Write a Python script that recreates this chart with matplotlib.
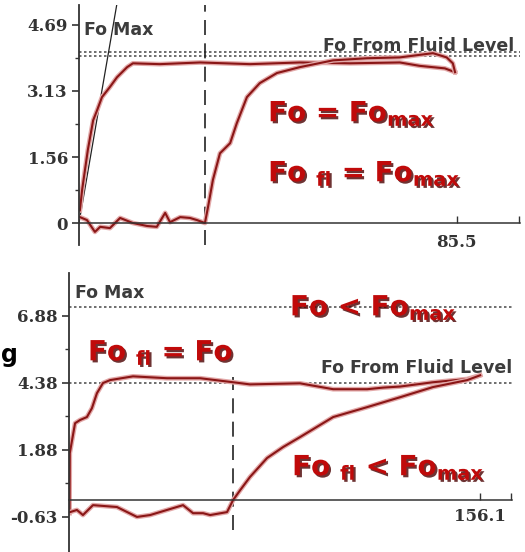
import matplotlib
matplotlib.use("Agg")
import matplotlib.pyplot as plt
import matplotlib.patheffects as pe

# ---- top panel data (Fo = Fo max) ----
top_a_x = [0.2, 0.7, 2.0, 3.2, 4.1, 5.2, 7.0, 8.6, 10.9, 12.2, 18.3, 27.4, 38.7, 50.0, 61.3, 72.6, 77.1, 82.8, 85.1]
top_a_y = [0.30, 0.78, 1.73, 2.43, 2.67, 2.98, 3.22, 3.45, 3.69, 3.78, 3.76, 3.80, 3.76, 3.80, 3.78, 3.80, 3.72, 3.66, 3.57]
top_b_x = [0.2, 1.8, 3.6, 4.8, 7.0, 9.3, 12.2, 15.4, 17.6, 19.5, 20.6, 22.9, 25.1, 26.7, 28.5, 29.2, 30.3,
           31.9, 34.2, 35.7, 38.0, 40.9, 44.8, 50.0, 57.5, 65.2, 72.6, 80.1, 83.2, 84.6, 85.1]
top_b_y = [0.14, 0.07, -0.21, -0.09, -0.12, 0.12, 0.0, -0.07, -0.09, 0.24, 0.02, 0.14, 0.12, 0.07, 0.0, 0.38, 1.02,
           1.65, 1.89, 2.36, 2.98, 3.31, 3.55, 3.69, 3.85, 3.90, 3.92, 4.02, 3.92, 3.78, 3.57]
top_slope_x = [0.0, 8.6]
top_slope_y = [0.0, 5.2]
top_fomax = 4.04
top_fluid = 3.95
top_split = 28.6
top_yticks = [0, 1.56, 3.13, 4.69]
top_xtick = 85.5

# ---- bottom panel data (Fo < Fo max) ----
bot_a_x = [0.2, 0.3, 2.3, 4.2, 6.8, 8.7, 10.6, 12.9, 15.6, 24.3, 37.2, 49.8, 62.3, 68.7, 87.7, 100.3, 113.2, 119.3, 125.8, 138.2, 151.2, 156.1]
bot_a_y = [-0.49, 1.75, 2.87, 2.99, 3.10, 3.43, 3.99, 4.37, 4.48, 4.62, 4.55, 4.55, 4.40, 4.32, 4.36, 4.14, 4.14, 4.20, 4.24, 4.40, 4.52, 4.66]
bot_b_x = [0.4, 3.0, 5.3, 9.1, 18.2, 25.8, 30.8, 37.2, 43.3, 47.1, 50.9, 53.6, 60.0, 62.3, 65.0, 68.7, 75.2,
           81.3, 87.7, 100.3, 113.2, 125.7, 138.2, 151.2, 156.1]
bot_b_y = [-0.45, -0.37, -0.56, -0.19, -0.26, -0.63, -0.56, -0.37, -0.19, -0.49, -0.49, -0.56, -0.45, 0.0, 0.37, 0.86, 1.57,
           1.98, 2.35, 3.10, 3.47, 3.84, 4.22, 4.48, 4.66]
bot_fomax = 7.2
bot_fluid = 4.38
bot_split = 62.3
bot_yticks = [-0.63, 1.88, 4.38, 6.88]
bot_xtick = 156.1

line_col = "#8a1616"
red_txt = "#c00a0a"
gray_txt = "#3c3c3c"
plt.rcParams["mathtext.fontset"] = "dejavusans"

fig = plt.figure(figsize=(5.25, 5.52), dpi=100)
fig.patch.set_facecolor("white")

ax1 = fig.add_axes([79 / 525, 307 / 552, 441 / 525, 240 / 552])
ax2 = fig.add_axes([69 / 525, 0.0, 443 / 525, 279 / 552])

line_fx = [pe.Stroke(linewidth=3.4, foreground="#e3a9a9"), pe.Normal()]
shadow = [pe.withSimplePatchShadow(offset=(1.5, -1.5), shadow_rgbFace="#4a0000", alpha=0.8)]


def style_axis(ax, yticks, xtick, xmax, ymin, ymax, xpad):
    ax.set_xlim(0, xmax)
    ax.set_ylim(ymin, ymax)
    for s in ["top", "right"]:
        ax.spines[s].set_visible(False)
    ax.spines["bottom"].set_position(("data", 0))
    ax.spines["left"].set_color("#333333")
    ax.spines["bottom"].set_color("#333333")
    ax.spines["left"].set_linewidth(1.3)
    ax.spines["bottom"].set_linewidth(1.1)
    ax.set_yticks(yticks)
    ax.set_yticklabels([f"{v:g}" for v in yticks])
    mids = [(yticks[i] + yticks[i + 1]) / 2 for i in range(len(yticks) - 1)]
    ax.set_yticks(mids, minor=True)
    ax.set_xticks([xtick, xmax * 0.998])
    ax.set_xticklabels([f"{xtick:g}", ""])
    ax.tick_params(axis="y", which="major", direction="out", length=5, width=1.2, pad=3, colors="#333333")
    ax.tick_params(axis="y", which="minor", direction="out", length=3, width=1.0, colors="#333333")
    ax.tick_params(axis="x", direction="in", length=5, width=1.0, pad=xpad, colors="#333333")
    for lab in ax.get_yticklabels() + ax.get_xticklabels():
        lab.set_fontfamily("DejaVu Serif")
        lab.set_fontweight("bold")
        lab.set_fontsize(12)
    ax.patch.set_alpha(0)


# top panel
style_axis(ax1, top_yticks, top_xtick, 99.8, -0.52, 5.16, 8)
ax1.axhline(top_fomax, color="#555555", lw=1.2, ls=(0, (1.5, 1.5)))
ax1.axhline(top_fluid, color="#555555", lw=1.2, ls=(0, (1.5, 1.5)))
ax1.axvline(top_split, color="#222222", lw=1.2, ls=(0, (9, 5)))
ax1.plot(top_slope_x, top_slope_y, color="#222222", lw=0.9, clip_on=True)
ax1.plot(top_a_x, top_a_y, color=line_col, lw=1.5, path_effects=line_fx)
ax1.plot(top_b_x, top_b_y, color=line_col, lw=1.5, path_effects=line_fx)
ax1.text(1.1, 4.56, "Fo Max", color=gray_txt, fontsize=12.5, fontweight="bold", va="center")
ax1.text(98.6, 4.18, "Fo From Fluid Level", color=gray_txt, fontsize=12.5, fontweight="bold",
         va="center", ha="right")
ax1.text(42.8, 2.6, r"Fo = Fo$_{\mathbf{max}}$", color=red_txt, fontsize=20, fontweight="bold",
         va="center", path_effects=shadow)
ax1.text(42.8, 1.18, r"Fo $_{\mathbf{fl}}$ = Fo$_{\mathbf{max}}$", color=red_txt, fontsize=20,
         fontweight="bold", va="center", path_effects=shadow)

# bottom panel
style_axis(ax2, bot_yticks, bot_xtick, 168.2, -1.94, 8.48, 6)
ax2.axhline(bot_fomax, color="#555555", lw=1.2, ls=(0, (1.5, 1.5)))
ax2.axhline(bot_fluid, color="#555555", lw=1.2, ls=(0, (1.5, 1.5)))
ax2.plot([bot_split, bot_split], [-1.1, 4.6], color="#222222", lw=1.2, ls=(0, (9, 5)))
ax2.plot(bot_a_x, bot_a_y, color=line_col, lw=1.5, path_effects=line_fx)
ax2.plot(bot_b_x, bot_b_y, color=line_col, lw=1.5, path_effects=line_fx)
ax2.text(2.3, 7.72, "Fo Max", color=gray_txt, fontsize=12.5, fontweight="bold", va="center")
ax2.text(168.2, 4.93, "Fo From Fluid Level", color=gray_txt, fontsize=12.5, fontweight="bold",
         va="center", ha="right")
ax2.text(83.9, 7.2, r"Fo < Fo$_{\mathbf{max}}$", color=red_txt, fontsize=20, fontweight="bold",
         va="center", path_effects=shadow)
ax2.text(7.2, 5.52, r"Fo $_{\mathbf{fl}}$ = Fo", color=red_txt, fontsize=20, fontweight="bold",
         va="center", path_effects=shadow)
ax2.text(84.7, 1.23, r"Fo $_{\mathbf{fl}}$ < Fo$_{\mathbf{max}}$", color=red_txt, fontsize=20,
         fontweight="bold", va="center", path_effects=shadow)

# partly visible letter at the left edge
fig.text(1 / 525, 1 - 355 / 552, "g", fontsize=17, fontweight="bold", color="black",
         ha="left", va="center")

fig.savefig("out.png", dpi=100, facecolor="white")
